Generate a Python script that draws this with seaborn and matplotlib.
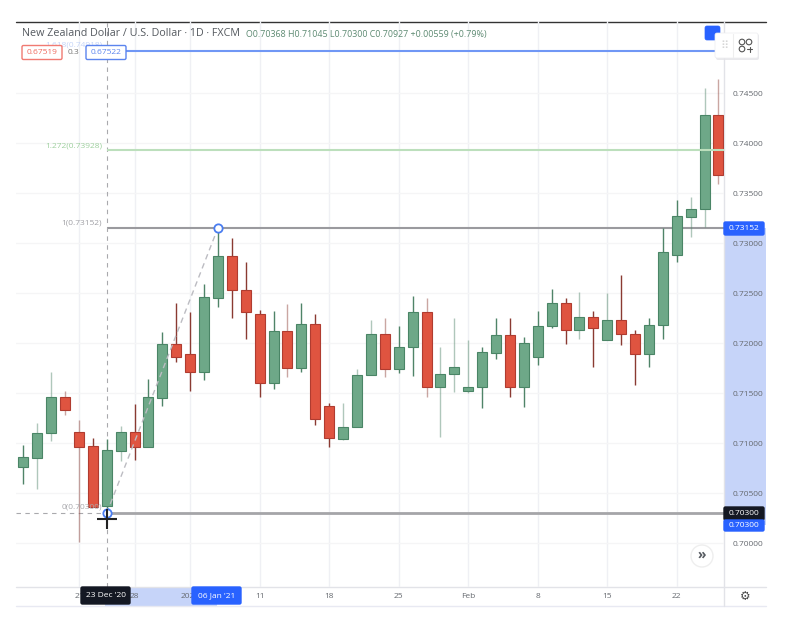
"""NZD/USD daily candles with a fibonacci overlay."""

import numpy as np
import pandas as pd
import matplotlib.pyplot as plt
from matplotlib.patches import Rectangle, FancyBboxPatch, Circle
import seaborn as sns

sns.set_style("white")
plt.rcParams['font.family'] = ['Open Sans', 'DejaVu Sans']

# bar number, 0 is 21 Dec '20
day = list(range(-4, 47))
opens = [.7076, .7085, .7110, .7146, .7111, .7097, .70368, .7092, .7111, .7096, .7145, .7199, .7189,
         .7171, .7245, .7287, .7253, .7229, .7160, .7212, .7175, .7219, .7137, .7104, .7116, .7168,
         .7209, .7174, .7196, .7231, .7156, .7169, .7152, .7156, .7190, .7208, .7156, .7186, .7217,
         .7240, .7213, .7226, .7203, .7223, .7209, .7189, .7218, .7288, .7326, .7334, .7428]
closes = [.7086, .7110, .7146, .7133, .7096, .7036, .70927, .7111, .7096, .7146, .7199, .7186, .7171,
          .7246, .7287, .7253, .7231, .7160, .7212, .7175, .7219, .7124, .7105, .7116, .7168, .7209,
          .7174, .7196, .7231, .7156, .7169, .7176, .7156, .7191, .7208, .7156, .7200, .7217, .7240,
          .7213, .7226, .7215, .7223, .7209, .7189, .7218, .7291, .7327, .7334, .7428, .7368]
highs = [.7098, .7120, .7171, .7152, .7123, .7105, .71045, .7117, .7139, .7164, .7211, .7240, .7231,
         .7259, .73152, .7305, .7281, .7233, .7232, .7239, .7240, .7229, .7140, .7140, .7174, .7223,
         .7225, .7217, .7247, .7245, .7196, .7225, .7203, .7196, .7225, .7225, .7206, .7232, .7254,
         .7245, .7251, .7232, .7250, .7268, .7213, .7225, .73152, .7343, .7346, .7455, .7464]
lows = [.7059, .7054, .7102, .7128, .7001, .7036, .70300, .7082, .7083, .7096, .7137, .7181, .7152,
        .7163, .7236, .7225, .7204, .7146, .7154, .7166, .7171, .7118, .7096, .7103, .7116, .7168,
        .7166, .7170, .7167, .7146, .7106, .7151, .7150, .7135, .7184, .7146, .7136, .7178, .7215,
        .7199, .7204, .7176, .7203, .7198, .7158, .7176, .7204, .7281, .7306, .7316, .7359]

# wicks that came out washed out in the screenshot
faded_days = [-3, -2, -1, 0, 3, 15, 19, 20, 21, 22, 25, 26, 27, 28, 36, 38, 44, 45, 46]

price_ticks = [.70, .705, .71, .715, .72, .725, .73, .735, .74, .745]
date_ticks = [0, 4, 8, 13, 18, 23, 28, 33, 38, 43]
date_labels = ["21", "28", "2021", "11", "18", "25", "Feb", "8", "15", "22"]

# fib levels
anchor_day = [2, 10]
anchor_price = [.70300, .73152]
level_price = [.74918, .73928]

W, H = 798, 631
GREEN, GREEN_EDGE, GREEN_WICK = "#6ea888", "#4a8566", "#4f8468"
RED, RED_EDGE, RED_WICK = "#df5440", "#b03c30", "#8a3a32"
TEXT = "#666a70"

df = pd.DataFrame({"day": day, "open": opens, "close": closes, "high": highs, "low": lows})
df["up"] = df["close"] >= df["open"]
df["bottom"] = df[["open", "close"]].min(axis=1)
df["height"] = (df["close"] - df["open"]).abs()
df["faded"] = df["day"].isin(faded_days)

fig = plt.figure(figsize=(W / 100, H / 100), dpi=100, facecolor="white")


def pixel_axes(z):
    """Full figure axes in image pixels, for the trading view chrome."""
    a = fig.add_axes([0, 0, 1, 1], zorder=z)
    a.set_xlim(0, W)
    a.set_ylim(H, 0)
    a.axis("off")
    a.patch.set_alpha(0)
    return a


back = pixel_axes(0)
ax = fig.add_axes([16 / W, 1 - 587 / H, (724 - 16) / W, (587 - 21) / H], zorder=1)
ui = pixel_axes(2)
ax.patch.set_alpha(0)

# selection bands on both axes
back.add_patch(Rectangle((724, 228), 42, 297, color="#c6d4f9", lw=0))
back.add_patch(Rectangle((105, 587), 112, 19, color="#c6d4f9", lw=0))
back.plot([16, 766], [21.5, 21.5], color="#333333", lw=1)
back.plot([16, 766], [587, 587], color="#e2e3e8", lw=1)
back.plot([16, 766], [606, 606], color="#e8e9f2", lw=1)
back.plot([724, 724], [21, 606], color="#e2e3e8", lw=1)

# candles
for is_up, color, edge, wick in [(True, GREEN, GREEN_EDGE, GREEN_WICK), (False, RED, RED_EDGE, RED_WICK)]:
    part = df[df["up"] == is_up]
    solid = part[~part["faded"]]
    faded = part[part["faded"]]
    ax.vlines(solid["day"], solid["low"], solid["high"], color=wick, lw=1, zorder=3)
    ax.vlines(faded["day"], faded["low"], faded["high"], color=wick, lw=1, alpha=0.45, zorder=3)
    sns.barplot(data=part, x="day", y="height", bottom=part["bottom"].values, native_scale=True,
                width=0.72, color=color, saturation=1, edgecolor=edge, linewidth=0.8,
                errorbar=None, ax=ax, zorder=4)

ax.set_xlim(-4.53, 46.4)
ax.set_ylim(.6956, .7522)
ax.set_xlabel("")
ax.set_ylabel("")
ax.set_xticks(date_ticks, date_labels)
ax.set_yticks(price_ticks, [f"{p:.5f}" for p in price_ticks])
ax.yaxis.tick_right()
ax.tick_params(axis="both", length=0, labelsize=6, labelcolor=TEXT)
ax.tick_params(axis="y", pad=6)
ax.tick_params(axis="x", pad=4)
ax.grid(True, axis="x", color="#eff0f4", lw=1)
ax.grid(True, axis="y", color="#f5f5f6", lw=1)
ax.set_axisbelow(True)
sns.despine(ax=ax, left=True, right=True, top=True, bottom=True)

# fib levels and the anchor line
x0 = anchor_day[0]
ax.hlines(level_price[0], 1.4 + x0, 46.0, color="#7097f5", lw=1.5, zorder=5)
ax.hlines(level_price[1], x0, 46.4, color="#bcdfbc", lw=1.5, zorder=5)
ax.hlines(anchor_price[1], x0, 46.4, color="#9a9a9e", lw=1.5, zorder=2)
ax.hlines(anchor_price[0], x0, 46.4, color="#a5a5a8", lw=2, zorder=2)
ax.plot(anchor_day, anchor_price, color="#bcbcc2", lw=1, ls=(0, (4, 3)), zorder=5)
ax.axvline(x0, color="#a9a9ad", lw=0.8, ls=(0, (4, 4)), zorder=2)
ax.hlines(anchor_price[0], -4.53, x0, color="#a9a9ad", lw=0.8, ls=(0, (4, 4)), zorder=2)
ax.plot(anchor_day, anchor_price, ls="", marker="o", ms=6, mfc="white", mec="#4a7df0", mew=1.3, zorder=6)
ax.plot([x0], [anchor_price[0] - .0006], ls="", marker="+", ms=14, mew=1.5, color="#222222", zorder=7)

ax.text(1.65, level_price[1] + .00045, "1.272(0.73928)", ha="right", va="center", fontsize=6, color="#9ed09e")
ax.text(1.65, anchor_price[1] + .00045, "1(0.73152)", ha="right", va="center", fontsize=6, color="#a0a0a5")
ax.text(1.65, anchor_price[0] + .00055, "0(0.70300)", ha="right", va="center", fontsize=6, color="#a8a8ac", zorder=5)
ax.text(1.65, level_price[0] + .0006, "1.618(0.74918)", ha="right", va="center", fontsize=6, color="#c4d4f8", zorder=1)

# header
ui.text(22, 34, "New Zealand Dollar / U.S. Dollar · 1D · FXCM", fontsize=7.75, color="#555a60", va="center")
ui.text(246, 34.5, "O0.70368 H0.71045 L0.70300 C0.70927 +0.00559 (+0.79%)", fontsize=6.4, color="#5d8a72", va="center")


def tag(x, y, w, h, label, face, color="white", edge=None, size=6):
    ui.add_patch(FancyBboxPatch((x, y), w, h, boxstyle="round,pad=0,rounding_size=1.5",
                                fc=face, ec=edge or face, lw=1, mutation_aspect=1))
    ui.text(x + w / 2, y + h / 2, label, ha="center", va="center", fontsize=size, color=color)


tag(22, 45.5, 40, 14, "0.67519", "white", "#ef6a5f", "#f07a72")
ui.text(73, 52.5, "0.3", ha="center", va="center", fontsize=6, color="#777777")
tag(86, 45.5, 40, 14, "0.67522", "white", "#5b84ee", "#5b84ee")

# price and date tags
tag(724, 222, 40, 13, "0.73152", "#2962ff")
tag(724, 507, 40, 13, "0.70300", "#141823")
tag(724, 520, 40, 11, "0.70300", "#2962ff")
tag(81, 587, 49, 17, "23 Dec '20", "#141823")
tag(192, 587, 49, 17, "06 Jan '21", "#2962ff")

# floating toolbar and buttons
ui.add_patch(FancyBboxPatch((705, 26), 15, 14, boxstyle="round,pad=0,rounding_size=2", fc="#2962ff", ec="#2962ff", lw=0.5))
ui.add_patch(FancyBboxPatch((716, 34), 43, 26, boxstyle="round,pad=0,rounding_size=2", fc="#e4e4e8", ec="none", alpha=0.8))
ui.add_patch(FancyBboxPatch((715, 33), 43, 25, boxstyle="round,pad=0,rounding_size=2", fc="white", ec="#ececf0", lw=0.5))
ui.plot([733, 733], [34, 57], color="#eeeeee", lw=0.8)
ui.text(724, 45.5, "⠿", ha="center", va="center", fontsize=8, color="#d6d6d6", family="DejaVu Sans")
for cx, cy in [(742, 42), (749, 42), (742, 49)]:
    ui.add_patch(Circle((cx, cy), 2.8, fc="none", ec="#555555", lw=0.8))
ui.plot([747, 752], [49, 49], color="#555555", lw=0.8)
ui.plot([749.5, 749.5], [46.5, 51.5], color="#555555", lw=0.8)
ui.add_patch(Circle((702, 556), 11, fc="white", ec="#eeeeee", lw=1))
ui.text(702, 555, "»", ha="center", va="center", fontsize=10, color="#555a60", fontweight="bold")
ui.text(745.5, 597, "⚙", ha="center", va="center", fontsize=8.5, color="#444444", family="DejaVu Sans")

plt.savefig("out.png", dpi=100)
